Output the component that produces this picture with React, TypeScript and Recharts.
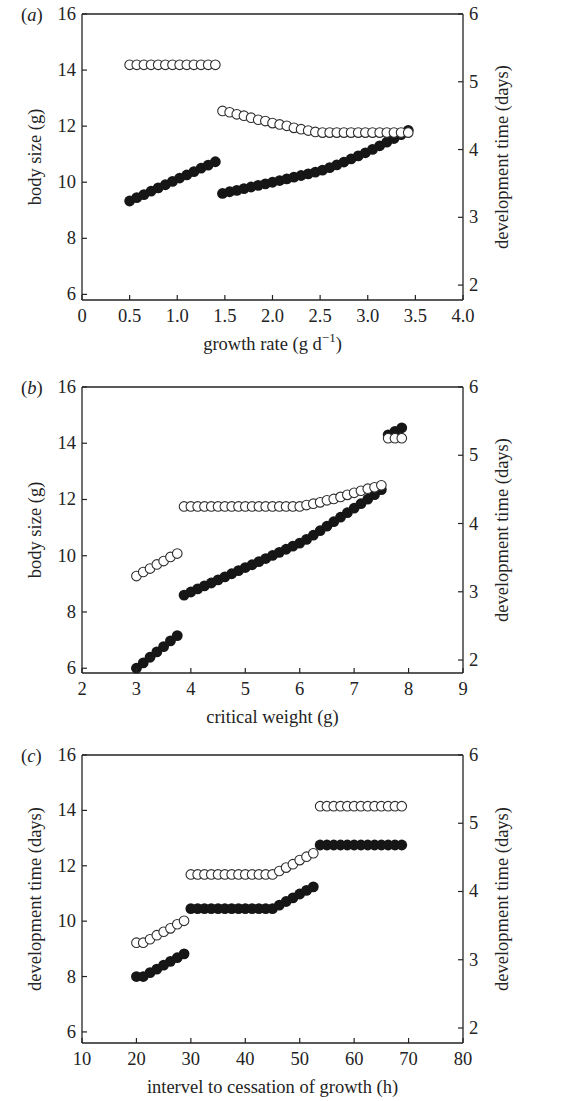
import React from "react";
import { ScatterChart, Scatter, XAxis, YAxis, ReferenceLine } from "recharts";

const INK = "#232323";
const FONT = "'Liberation Serif', 'DejaVu Serif', serif";
const txt = { fontSize: 18.5, fontFamily: FONT, fill: INK };

// (a) growth rate (g/d) vs body size (g) and development time (days)
const rateA1 = [0.5, 0.575, 0.65, 0.725, 0.8, 0.875, 0.95, 1.025, 1.1, 1.175, 1.25, 1.325, 1.4];
const sizeA1 = [9.33, 9.45, 9.56, 9.68, 9.8, 9.91, 10.03, 10.15, 10.26, 10.38, 10.5, 10.61, 10.73];
const timeA1 = [5.25, 5.25, 5.25, 5.25, 5.25, 5.25, 5.25, 5.25, 5.25, 5.25, 5.25, 5.25, 5.25];
const rateA2 = [1.475, 1.55, 1.625, 1.7, 1.775, 1.85, 1.925, 2.0, 2.075, 2.15, 2.225, 2.3, 2.375, 2.45, 2.525, 2.6, 2.675, 2.75, 2.825, 2.9, 2.975, 3.05, 3.125, 3.2, 3.275, 3.35, 3.425];
const sizeA2 = [9.6, 9.66, 9.71, 9.77, 9.83, 9.89, 9.94, 10.0, 10.06, 10.12, 10.18, 10.24, 10.3, 10.36, 10.43, 10.52, 10.62, 10.72, 10.83, 10.94, 11.05, 11.17, 11.3, 11.43, 11.56, 11.7, 11.85];
const timeA2 = [4.57, 4.55, 4.52, 4.5, 4.47, 4.44, 4.42, 4.39, 4.37, 4.35, 4.32, 4.3, 4.28, 4.26, 4.25, 4.25, 4.25, 4.25, 4.25, 4.25, 4.25, 4.25, 4.25, 4.25, 4.25, 4.25, 4.25];

// (b) critical weight (g)
const cwB1 = [3.0, 3.125, 3.25, 3.375, 3.5, 3.625, 3.75];
const sizeB1 = [6.0, 6.19, 6.39, 6.58, 6.77, 6.97, 7.16];
const timeB1 = [3.23, 3.29, 3.34, 3.4, 3.45, 3.51, 3.56];
const cwB2 = [3.875, 4.0, 4.125, 4.25, 4.375, 4.5, 4.625, 4.75, 4.875, 5.0, 5.125, 5.25, 5.375, 5.5, 5.625, 5.75, 5.875, 6.0, 6.125, 6.25, 6.375, 6.5, 6.625, 6.75, 6.875, 7.0, 7.125, 7.25, 7.375, 7.5];
const sizeB2 = [8.6, 8.71, 8.82, 8.93, 9.03, 9.14, 9.25, 9.36, 9.47, 9.58, 9.68, 9.79, 9.9, 10.01, 10.12, 10.23, 10.34, 10.45, 10.58, 10.73, 10.89, 11.05, 11.21, 11.37, 11.53, 11.69, 11.85, 12.01, 12.17, 12.35];
const timeB2 = [4.25, 4.25, 4.25, 4.25, 4.25, 4.25, 4.25, 4.25, 4.25, 4.25, 4.25, 4.25, 4.25, 4.25, 4.25, 4.25, 4.25, 4.25, 4.27, 4.29, 4.31, 4.34, 4.36, 4.39, 4.42, 4.45, 4.48, 4.51, 4.53, 4.56];
const cwB3 = [7.625, 7.75, 7.875];
const sizeB3 = [14.3, 14.42, 14.55];
const timeB3 = [5.25, 5.25, 5.25];

// (c) interval to cessation of growth (h)
const hC1 = [20, 21.25, 22.5, 23.75, 25, 26.25, 27.5, 28.75];
const sizeC1 = [8.0, 8.0, 8.14, 8.27, 8.41, 8.55, 8.68, 8.82];
const timeC1 = [3.25, 3.25, 3.3, 3.36, 3.41, 3.46, 3.52, 3.57];
const hC2 = [30, 31.25, 32.5, 33.75, 35, 36.25, 37.5, 38.75, 40, 41.25, 42.5, 43.75, 45, 46.25, 47.5, 48.75, 50, 51.25, 52.5];
const sizeC2 = [10.45, 10.45, 10.45, 10.45, 10.45, 10.45, 10.45, 10.45, 10.45, 10.45, 10.45, 10.45, 10.45, 10.58, 10.71, 10.84, 10.98, 11.11, 11.24];
const timeC2 = [4.25, 4.25, 4.25, 4.25, 4.25, 4.25, 4.25, 4.25, 4.25, 4.25, 4.25, 4.25, 4.25, 4.3, 4.35, 4.4, 4.46, 4.51, 4.56];
const hC3 = [53.75, 55, 56.25, 57.5, 58.75, 60, 61.25, 62.5, 63.75, 65, 66.25, 67.5, 68.75];
const sizeC3 = [12.75, 12.75, 12.75, 12.75, 12.75, 12.75, 12.75, 12.75, 12.75, 12.75, 12.75, 12.75, 12.75];
const timeC3 = [5.25, 5.25, 5.25, 5.25, 5.25, 5.25, 5.25, 5.25, 5.25, 5.25, 5.25, 5.25, 5.25];

const ticksA = [0, 0.5, 1, 1.5, 2, 2.5, 3, 3.5, 4];
const ticksB = [2, 3, 4, 5, 6, 7, 8, 9];
const ticksC = [10, 20, 30, 40, 50, 60, 70, 80];
const leftTicks = [6, 8, 10, 12, 14, 16];
const rightTicks = [2, 3, 4, 5, 6];

type Pt = { x: number; y: number };
const zip = (xs: number[], ys: number[]): Pt[] => xs.map((x, i) => ({ x, y: ys[i] }));

const Dot = (p: any) => <circle cx={p.cx} cy={p.cy} r={5.4} fill="#161616" />;
const Ring = (p: any) => (
  <circle cx={p.cx} cy={p.cy} r={4.8} fill="#fff" stroke="#2e2e2e" strokeWidth={1.1} />
);

// inward tick marks, labels outside the frame
const LeftTick = ({ x, y, payload }: any) => (
  <g>
    <line x1={x} x2={x + 5} y1={y} y2={y} stroke={INK} strokeWidth={1.2} />
    <text x={x - 6} y={y} textAnchor="end" dominantBaseline="central" {...txt}>
      {payload.value}
    </text>
  </g>
);
const RightTick = ({ x, y, payload }: any) => (
  <g>
    <line x1={x} x2={x - 5} y1={y} y2={y} stroke={INK} strokeWidth={1.2} />
    <text x={x + 6} y={y} textAnchor="start" dominantBaseline="central" {...txt}>
      {payload.value}
    </text>
  </g>
);
const bottomTick = (fmt: (v: number) => string) => ({ x, y, payload }: any) => (
  <g>
    <line x1={x} x2={x} y1={y} y2={y - 5} stroke={INK} strokeWidth={1.2} />
    <text x={x} y={y + 16} textAnchor="middle" dominantBaseline="central" {...txt}>
      {fmt(payload.value)}
    </text>
  </g>
);

interface PanelProps {
  top: number;
  letter: string;
  plotH: number;
  xDomain: [number, number];
  xTicks: number[];
  fmtX: (v: number) => string;
  leftDomain: [number, number];
  rightDomain: [number, number];
  xTitle: React.ReactNode;
  leftTitle: string;
  rightTitle: string;
  filled: Pt[];
  open: Pt[];
}

const axisLine = { stroke: INK, strokeWidth: 1.3 };

const Panel = (p: PanelProps) => {
  const H = 14 + p.plotH + 60;
  return (
    <div style={{ position: "absolute", left: 0, top: p.top - 14 }}>
      <ScatterChart width={563} height={H} margin={{ top: 14, right: 50, bottom: 0, left: 32 }}>
        <XAxis
          type="number"
          dataKey="x"
          domain={p.xDomain}
          ticks={p.xTicks}
          interval={0}
          height={60}
          tickSize={0}
          tickMargin={0}
          axisLine={axisLine}
          tick={bottomTick(p.fmtX)}
          label={({ viewBox }: any) => (
            <text
              x={viewBox.x + viewBox.width / 2}
              y={viewBox.y + 44}
              textAnchor="middle"
              dominantBaseline="central"
              {...txt}
            >
              {p.xTitle}
            </text>
          )}
        />
        <YAxis
          yAxisId="left"
          type="number"
          dataKey="y"
          domain={p.leftDomain}
          ticks={leftTicks}
          interval={0}
          width={50}
          tickSize={0}
          tickMargin={0}
          axisLine={axisLine}
          tick={LeftTick}
          label={({ viewBox }: any) => {
            const cx = viewBox.x + 3;
            const cy = viewBox.y + viewBox.height / 2;
            return (
              <g>
                <text x={21} y={viewBox.y + 1} dominantBaseline="central" {...txt}>
                  (<tspan fontStyle="italic">{p.letter}</tspan>)
                </text>
                <text
                  x={cx}
                  y={cy}
                  transform={`rotate(-90, ${cx}, ${cy})`}
                  textAnchor="middle"
                  dominantBaseline="central"
                  {...txt}
                >
                  {p.leftTitle}
                </text>
              </g>
            );
          }}
        />
        <YAxis
          yAxisId="right"
          orientation="right"
          type="number"
          dataKey="y"
          domain={p.rightDomain}
          ticks={rightTicks}
          interval={0}
          width={50}
          tickSize={0}
          tickMargin={0}
          axisLine={axisLine}
          tick={RightTick}
          label={({ viewBox }: any) => {
            const cx = viewBox.x + 39;
            const cy = viewBox.y + viewBox.height / 2;
            return (
              <text
                x={cx}
                y={cy}
                transform={`rotate(-90, ${cx}, ${cy})`}
                textAnchor="middle"
                dominantBaseline="central"
                {...txt}
              >
                {p.rightTitle}
              </text>
            );
          }}
        />
        <ReferenceLine yAxisId="left" y={p.leftDomain[1]} stroke={INK} strokeWidth={1.3} />
        <Scatter yAxisId="left" data={p.filled} shape={Dot} isAnimationActive={false} />
        <Scatter yAxisId="right" data={p.open} shape={Ring} isAnimationActive={false} />
      </ScatterChart>
    </div>
  );
};

const fmtA = (v: number) => (v === 0 ? "0" : v.toFixed(1));
const fmtInt = (v: number) => String(v);

export default function App() {
  return (
    <div
      style={{
        position: "absolute",
        left: 0,
        top: 0,
        width: 563,
        height: 1101,
        background: "#fff",
        fontFamily: FONT,
      }}
    >
      <Panel
        top={14}
        letter="a"
        plotH={286}
        xDomain={[0, 4]}
        xTicks={ticksA}
        fmtX={fmtA}
        leftDomain={[5.8, 16]}
        rightDomain={[1.78, 6]}
        xTitle={
          <>
            growth rate (g d
            <tspan fontSize={13} dy={-7}>
              −1
            </tspan>
            <tspan dy={7}>)</tspan>
          </>
        }
        leftTitle="body size (g)"
        rightTitle="development time (days)"
        filled={[...zip(rateA1, sizeA1), ...zip(rateA2, sizeA2)]}
        open={[...zip(rateA1, timeA1), ...zip(rateA2, timeA2)]}
      />
      <Panel
        top={387}
        letter="b"
        plotH={286}
        xDomain={[2, 9]}
        xTicks={ticksB}
        fmtX={fmtInt}
        leftDomain={[5.83, 16]}
        rightDomain={[1.81, 6]}
        xTitle="critical weight (g)"
        leftTitle="body size (g)"
        rightTitle="development time (days)"
        filled={[...zip(cwB1, sizeB1), ...zip(cwB2, sizeB2), ...zip(cwB3, sizeB3)]}
        open={[...zip(cwB1, timeB1), ...zip(cwB2, timeB2), ...zip(cwB3, timeB3)]}
      />
      <Panel
        top={755}
        letter="c"
        plotH={288}
        xDomain={[10, 80]}
        xTicks={ticksC}
        fmtX={fmtInt}
        leftDomain={[5.6, 16]}
        rightDomain={[1.78, 6]}
        xTitle="intervel to cessation of growth (h)"
        leftTitle="development time (days)"
        rightTitle="development time (days)"
        filled={[...zip(hC1, sizeC1), ...zip(hC2, sizeC2), ...zip(hC3, sizeC3)]}
        open={[...zip(hC1, timeC1), ...zip(hC2, timeC2), ...zip(hC3, timeC3)]}
      />
    </div>
  );
}
